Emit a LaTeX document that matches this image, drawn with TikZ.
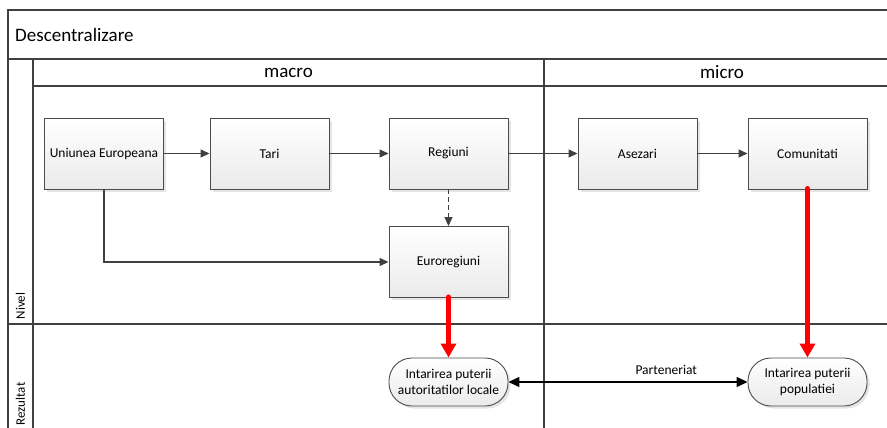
\documentclass[tikz,border=0pt]{standalone}
\usepackage{fontspec}
\setmainfont{Carlito}
\usetikzlibrary{arrows.meta,shadows}
\begin{document}
\begin{tikzpicture}[x=1pt,y=-1pt,
  frame/.style={draw=black!75,line width=1.3pt},
  procbox/.style={draw=black!70,line width=0.9pt,minimum width=119pt,minimum height=71pt,
    top color=white,bottom color=black!8,font=\fontsize{13.5}{16}\selectfont,
    drop shadow={shadow xshift=2.5pt,shadow yshift=-2.5pt,fill=black!10,opacity=1}},
  resbox/.style={draw=black!70,line width=0.9pt,minimum width=119pt,minimum height=48pt,
    rounded corners=23pt,top color=white,bottom color=black!8,align=center,
    font=\fontsize{13.5}{16.5}\selectfont,inner sep=1pt,
    drop shadow={shadow xshift=2.5pt,shadow yshift=-2.5pt,fill=black!10,opacity=1}},
  flow/.style={draw=black!75,line width=1.2pt,-{Triangle[length=9pt,width=8pt]}},
  impact/.style={draw=red,line width=5pt,line cap=round,-{Triangle[length=14pt,width=15pt]}},
  lane/.style={font=\fontsize{19}{22}\selectfont},
  side/.style={rotate=90,font=\fontsize{13}{15}\selectfont}]
\useasboundingbox (0,0) rectangle (887,428);
\clip (0,0) rectangle (887,428);

% pool frame and lanes
\draw[frame] (900,10) -- (8,10) -- (8,440);
\draw[frame] (8,59) -- (900,59);
\draw[frame] (33,59) -- (33,440);
\draw[frame] (33,86) -- (900,86);
\draw[frame] (544,59) -- (544,440);
\draw[frame] (8,324) -- (900,324);

\node[lane,anchor=west,inner sep=0pt] (title) at (15,35) {Descentralizare};
\node[lane] (macro) at (288.5,72.5) {macro};
\node[lane] (micro) at (722,72.5) {micro};
\node[side] (nivel) at (20.5,306) {Nivel};
\node[side] (rez) at (20.5,404) {Rezultat};

% level boxes
\node[procbox] (ue) at (104,153.5) {Uniunea Europeana};
\node[procbox] (tari) at (269.5,153.5) {Tari};
\node[procbox] (reg) at (448.5,153.5) {Regiuni};
\node[procbox] (ase) at (637.5,153.5) {Asezari};
\node[procbox] (com) at (807.5,153.5) {Comunitati};
\node[procbox] (euro) at (448.5,262) {Euroregiuni};

% results
\node[resbox] (auto) at (448.5,382) {Intarirea puterii\\autoritatilor locale};
\node[resbox] (pop) at (807.5,382) {Intarirea puterii\\populatiei};

% connectors
\draw[flow] (ue) -- (tari);
\draw[flow] (tari) -- (reg);
\draw[flow] (reg) -- (ase);
\draw[flow] (ase) -- (com);
\draw[flow,dashed,dash pattern=on 5pt off 3pt] (reg) -- (euro);
\draw[flow] (ue.south) |- (euro.west);
\draw[impact] (euro.south) ++(0,-1) -- (auto.north);
\draw[impact] (com.south) ++(0,-1) -- (pop.north);
\draw[draw=black,line width=1.4pt,{Triangle[length=11pt,width=10pt]}-{Triangle[length=11pt,width=10pt]}]
  (auto.east) -- node[pos=0.66,above=6pt,font=\fontsize{13.5}{16}\selectfont,inner sep=1pt] (part) {Parteneriat} (pop.west);
\end{tikzpicture}
\end{document}
